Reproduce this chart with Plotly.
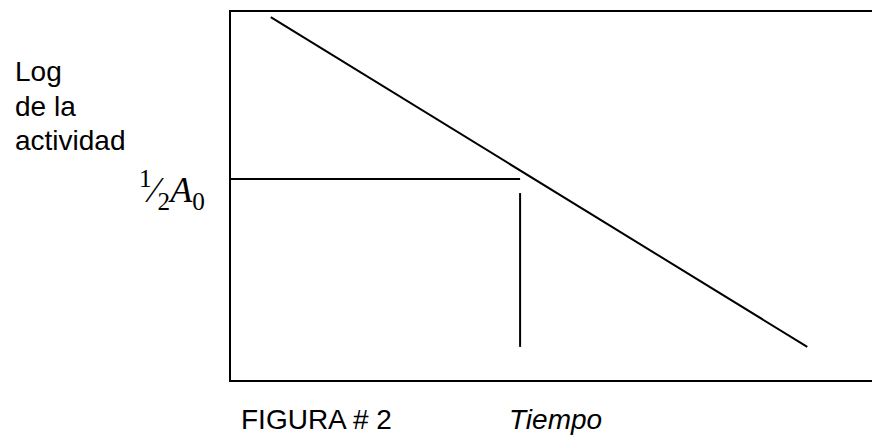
import plotly.graph_objects as go

# Data (axis units: tiempo 0-10, log actividad 0-10)
tiempo = [0.62, 8.99]
log_actividad = [9.86, 0.90]
half_level = 5.46      # log(1/2 A0)
t_half = 4.51          # tiempo de vida media
vert_top = 5.08
vert_bottom = 0.90

W, H = 872, 440
L, R, T, B = 231, 0, 12, 60
pw, ph = W - L - R, H - T - B

def px(x):
    return (x - L) / pw

def py(y):
    return (H - B - y) / ph

fig = go.Figure()
line = dict(color="black", width=2)
fig.add_trace(go.Scatter(x=tiempo, y=log_actividad, mode="lines", line=line, hoverinfo="skip"))
fig.add_trace(go.Scatter(x=[0, t_half], y=[half_level, half_level], mode="lines", line=line, hoverinfo="skip"))
fig.add_trace(go.Scatter(x=[t_half, t_half], y=[vert_top, vert_bottom], mode="lines", line=line, hoverinfo="skip"))

font = dict(family="Liberation Sans, Arial, sans-serif", size=28, color="black")
ann = []
for txt, yc in [("Log", 71), ("de la", 106), ("actividad", 141)]:
    ann.append(dict(text=txt, x=px(13), y=py(yc), xref="paper", yref="paper",
                    xanchor="left", yanchor="middle", showarrow=False, font=font))
ann.append(dict(text="FIGURA # 2", x=px(239), y=py(419), xref="paper", yref="paper",
                xanchor="left", yanchor="middle", showarrow=False, font=font))
ann.append(dict(text="<i>Tiempo</i>", x=px(507), y=py(419), xref="paper", yref="paper",
                xanchor="left", yanchor="middle", showarrow=False, font=font))
ann.append(dict(text="<sup>1</sup>⁄<sub>2</sub><i>A</i><sub>0</sub>", x=px(207), y=py(190),
                xref="paper", yref="paper", xanchor="right", yanchor="middle", showarrow=False,
                font=dict(family="Liberation Serif, Times New Roman, serif", size=36, color="black")))

fig.update_layout(
    width=W, height=H,
    margin=dict(l=L, r=R, t=T, b=B),
    paper_bgcolor="white", plot_bgcolor="white",
    showlegend=False,
    annotations=ann,
    xaxis=dict(range=[0, 10], showgrid=False, zeroline=False, showticklabels=False, ticks="",
               showline=True, linecolor="black", linewidth=2, mirror=True, fixedrange=True),
    yaxis=dict(range=[0, 10], showgrid=False, zeroline=False, showticklabels=False, ticks="",
               showline=True, linecolor="black", linewidth=2, mirror=False, fixedrange=True),
)
fig.write_html("out.html", config={"displayModeBar": False},
               post_script="document.body.style.margin='0';document.body.style.overflow='hidden';")
